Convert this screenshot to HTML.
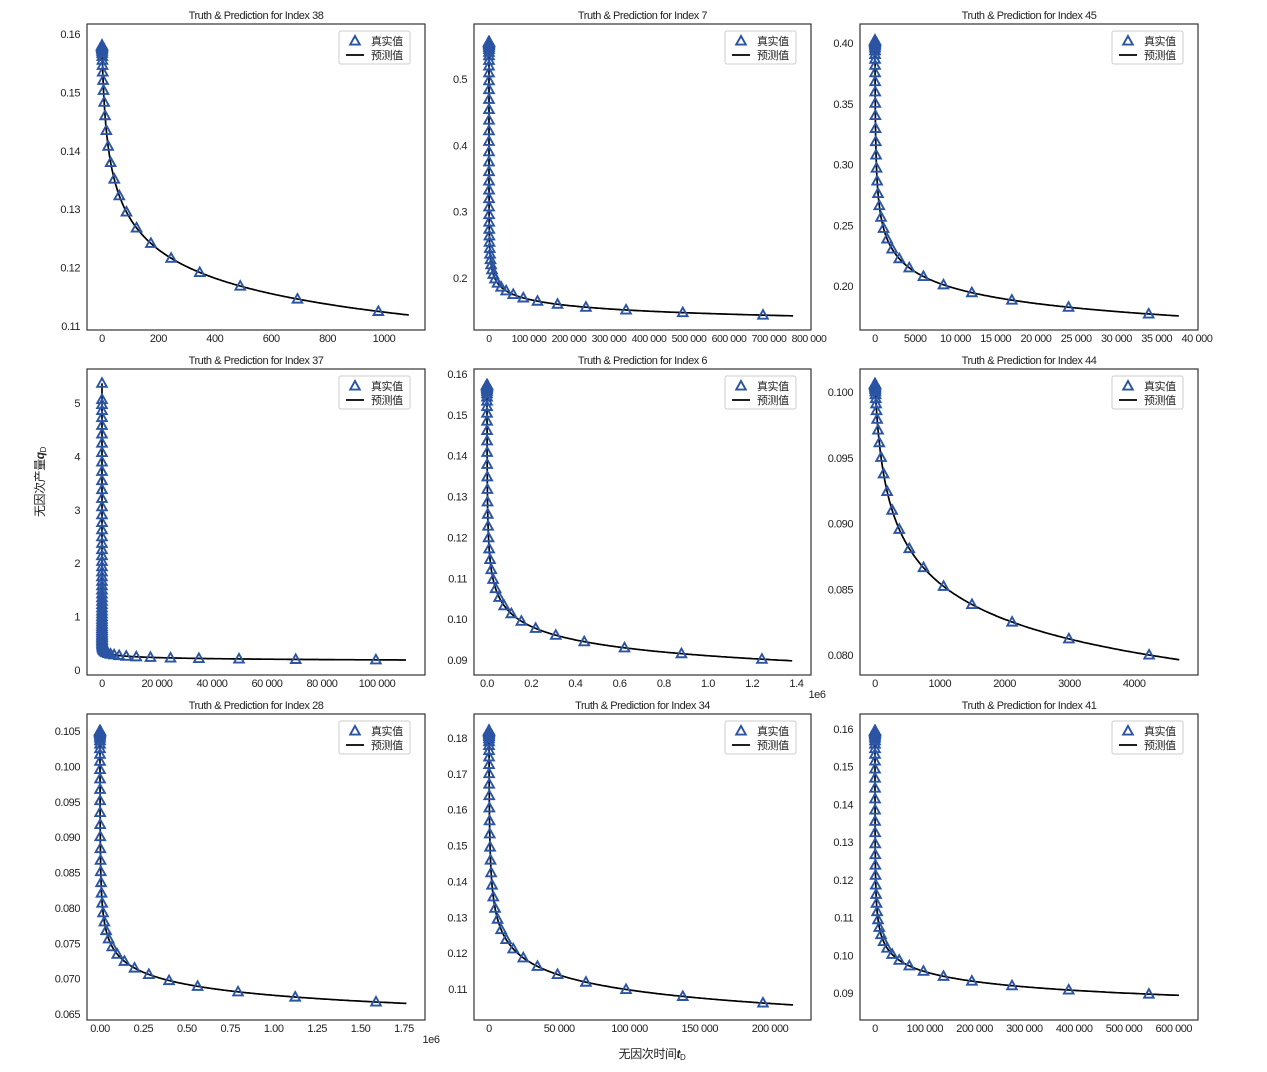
<!DOCTYPE html>
<html><head><meta charset="utf-8">
<style>
html,body{margin:0;padding:0;background:#fff;}
svg{display:block;}
text{font-family:"Liberation Sans","Noto Sans CJK SC",sans-serif;fill:#222;letter-spacing:-0.45px;}
</style></head>
<body>
<svg id="s" width="1267" height="1072" xmlns="http://www.w3.org/2000/svg">
<text x="44" y="482" font-size="12" text-anchor="middle" transform="rotate(-90 44 482)" fill="#333">无因次产量<tspan font-style="italic" font-weight="bold">q</tspan><tspan font-size="8" dy="2">D</tspan></text>
<text x="652" y="1058" font-size="12" text-anchor="middle" fill="#333">无因次时间<tspan font-style="italic" font-weight="bold">t</tspan><tspan font-size="8" dy="2">D</tspan></text>
</svg>
<script>
var NS="http://www.w3.org/2000/svg",S=document.getElementById('s');
function el(t,a,txt){var e=document.createElementNS(NS,t);for(var k in a)e.setAttribute(k,a[k]);if(txt!=null)e.textContent=txt;S.appendChild(e);return e;}
var P=[
{t:"Truth & Prediction for Index 38",b:[87,24,425,330],xo:102,xs:0.282,yr:[326,0.11],ys:5840,q0:0.158,T1:980,q1:0.1125,q2:0.1268,
 yt:[[0.11,"0.11"],[0.12,"0.12"],[0.13,"0.13"],[0.14,"0.14"],[0.15,"0.15"],[0.16,"0.16"]],xt:[[0,"0"],[200,"200"],[400,"400"],[600,"600"],[800,"800"],[1000,"1000"]]},
{t:"Truth & Prediction for Index 7",b:[474,24,811,330],xo:489,xs:0.0004,yr:[278,0.2],ys:663,q0:0.556,T1:685000,q1:0.144,q2:0.170,
 yt:[[0.2,"0.2"],[0.3,"0.3"],[0.4,"0.4"],[0.5,"0.5"]],xt:[[0,"0"],[1e5,"100 000"],[2e5,"200 000"],[3e5,"300 000"],[4e5,"400 000"],[5e5,"500 000"],[6e5,"600 000"],[7e5,"700 000"],[8e5,"800 000"]],sm:1},
{t:"Truth & Prediction for Index 45",b:[860,24,1198,330],xo:875,xs:0.00805,yr:[286,0.2],ys:1215,q0:0.402,T1:34000,q1:0.177,q2:0.215,
 yt:[[0.2,"0.20"],[0.25,"0.25"],[0.3,"0.30"],[0.35,"0.35"],[0.4,"0.40"]],xt:[[0,"0"],[5000,"5000"],[10000,"10 000"],[15000,"15 000"],[20000,"20 000"],[25000,"25 000"],[30000,"30 000"],[35000,"35 000"],[40000,"40 000"]]},
{t:"Truth & Prediction for Index 37",b:[87,369,425,675],xo:102,xs:0.00275,yr:[670,0],ys:53.4,q0:5.37,T1:99600,q1:0.19,q2:0.205,
 yt:[[0,"0"],[1,"1"],[2,"2"],[3,"3"],[4,"4"],[5,"5"]],xt:[[0,"0"],[20000,"20 000"],[40000,"40 000"],[60000,"60 000"],[80000,"80 000"],[100000,"100 000"]]},
{t:"Truth & Prediction for Index 6",b:[474,369,811,675],xo:487,xs:0.000221,yr:[660,0.09],ys:4086,q0:0.1573,T1:1244000,q1:0.0902,q2:0.0995,
 yt:[[0.09,"0.09"],[0.1,"0.10"],[0.11,"0.11"],[0.12,"0.12"],[0.13,"0.13"],[0.14,"0.14"],[0.15,"0.15"],[0.16,"0.16"]],xt:[[0,"0.0"],[2e5,"0.2"],[4e5,"0.4"],[6e5,"0.6"],[8e5,"0.8"],[1e6,"1.0"],[1.2e6,"1.2"],[1.4e6,"1.4"]],off:"1e6"},
{t:"Truth & Prediction for Index 44",b:[860,369,1198,675],xo:875,xs:0.0648,yr:[655,0.08],ys:13150,q0:0.1006,T1:4230,q1:0.0800,q2:0.0881,
 yt:[[0.08,"0.080"],[0.085,"0.085"],[0.09,"0.090"],[0.095,"0.095"],[0.1,"0.100"]],xt:[[0,"0"],[1000,"1000"],[2000,"2000"],[3000,"3000"],[4000,"4000"]]},
{t:"Truth & Prediction for Index 28",b:[87,714,425,1020],xo:100,xs:0.0001737,yr:[1014,0.065],ys:7075,q0:0.105,T1:1589000,q1:0.0667,q2:0.0715,
 yt:[[0.065,"0.065"],[0.07,"0.070"],[0.075,"0.075"],[0.08,"0.080"],[0.085,"0.085"],[0.09,"0.090"],[0.095,"0.095"],[0.1,"0.100"],[0.105,"0.105"]],xt:[[0,"0.00"],[2.5e5,"0.25"],[5e5,"0.50"],[7.5e5,"0.75"],[1e6,"1.00"],[1.25e6,"1.25"],[1.5e6,"1.50"],[1.75e6,"1.75"]],off:"1e6"},
{t:"Truth & Prediction for Index 34",b:[474,714,811,1020],xo:489,xs:0.001405,yr:[989,0.11],ys:3586,q0:0.182,T1:195000,q1:0.1061,q2:0.1187,
 yt:[[0.11,"0.11"],[0.12,"0.12"],[0.13,"0.13"],[0.14,"0.14"],[0.15,"0.15"],[0.16,"0.16"],[0.17,"0.17"],[0.18,"0.18"]],xt:[[0,"0"],[50000,"50 000"],[100000,"100 000"],[150000,"150 000"],[200000,"200 000"]]},
{t:"Truth & Prediction for Index 41",b:[860,714,1198,1020],xo:875,xs:0.000498,yr:[993,0.09],ys:3771,q0:0.1595,T1:550000,q1:0.0897,q2:0.0972,
 yt:[[0.09,"0.09"],[0.1,"0.10"],[0.11,"0.11"],[0.12,"0.12"],[0.13,"0.13"],[0.14,"0.14"],[0.15,"0.15"],[0.16,"0.16"]],xt:[[0,"0"],[1e5,"100 000"],[2e5,"200 000"],[3e5,"300 000"],[4e5,"400 000"],[5e5,"500 000"],[6e5,"600 000"]]}
];
var p=0.15;
function tri(x,y){el('polygon',{points:x+','+(y-5)+' '+(x+4.8)+','+(y+3.6)+' '+(x-4.8)+','+(y+3.6),fill:'none',stroke:'#2b55a3','stroke-width':1.9});}
P.forEach(function(d){
  var b=d.b, T1=d.T1, T2=T1/8;
  function fit(c){var g1=Math.pow(1+T1/c,-p);return (d.q1-d.q0*g1)/(1-g1);}
  function q(t,c,qi){return qi+(d.q0-qi)*Math.pow(1+t/c,-p);}
  var lo=-12,hi=Math.log(T1*10);
  for(var i=0;i<90;i++){var m=(lo+hi)/2,c=Math.exp(m),qi=fit(c);var v=q(T2,c,qi);
    if(v>d.q2)hi=m;else lo=m;}
  var c=Math.exp((lo+hi)/2),qi=fit(c);
  var X=function(t){return d.xo+t*d.xs;},Y=function(v){return d.yr[0]-(v-d.yr[1])*d.ys;};
  el('text',{x:(b[0]+b[2])/2,y:b[1]-5,'font-size':11,'text-anchor':'middle'},d.t);
  d.yt.forEach(function(t){el('text',{x:b[0]-7,y:Y(t[0])+4,'font-size':11,'text-anchor':'end'},t[1]);});
  d.xt.forEach(function(t){el('text',{x:X(t[0]),y:b[3]+12,'font-size':d.sm?10.5:11,'text-anchor':'middle','letter-spacing':d.sm?'-0.7px':'-0.45px'},t[1]);});
  if(d.off)el('text',{x:b[2]+6,y:b[3]+23,'font-size':11,'text-anchor':'middle'},d.off);
  var pts=[],tend=T1*1.11;
  for(var k=0;k<=500;k++){var t=tend*Math.pow(k/500,4);pts.push(X(t).toFixed(1)+','+Y(q(t,c,qi)).toFixed(1));}
  el('polyline',{points:pts.join(' '),fill:'none',stroke:'#000','stroke-width':1.7});
  for(var k=70;k>=0;k--){var t=T1/Math.pow(1.414,k);tri(X(t),Y(q(t,c,qi)));}
  tri(X(0),Y(d.q0));
  el('rect',{x:b[0],y:b[1],width:b[2]-b[0],height:b[3]-b[1],fill:'none',stroke:'#333','stroke-width':1.2});
  var lx=b[2]-86,ly=b[1]+7;
  el('rect',{x:lx,y:ly,width:71,height:33,rx:2,fill:'#fff',stroke:'#ccc','stroke-width':1});
  tri(lx+16,ly+10);
  el('text',{x:lx+32,y:ly+14,'font-size':11,fill:'#444'},'真实值');
  el('line',{x1:lx+7,y1:ly+24,x2:lx+25,y2:ly+24,stroke:'#000','stroke-width':1.7});
  el('text',{x:lx+32,y:ly+28,'font-size':11,fill:'#444'},'预测值');
});
</script>
</body></html>
